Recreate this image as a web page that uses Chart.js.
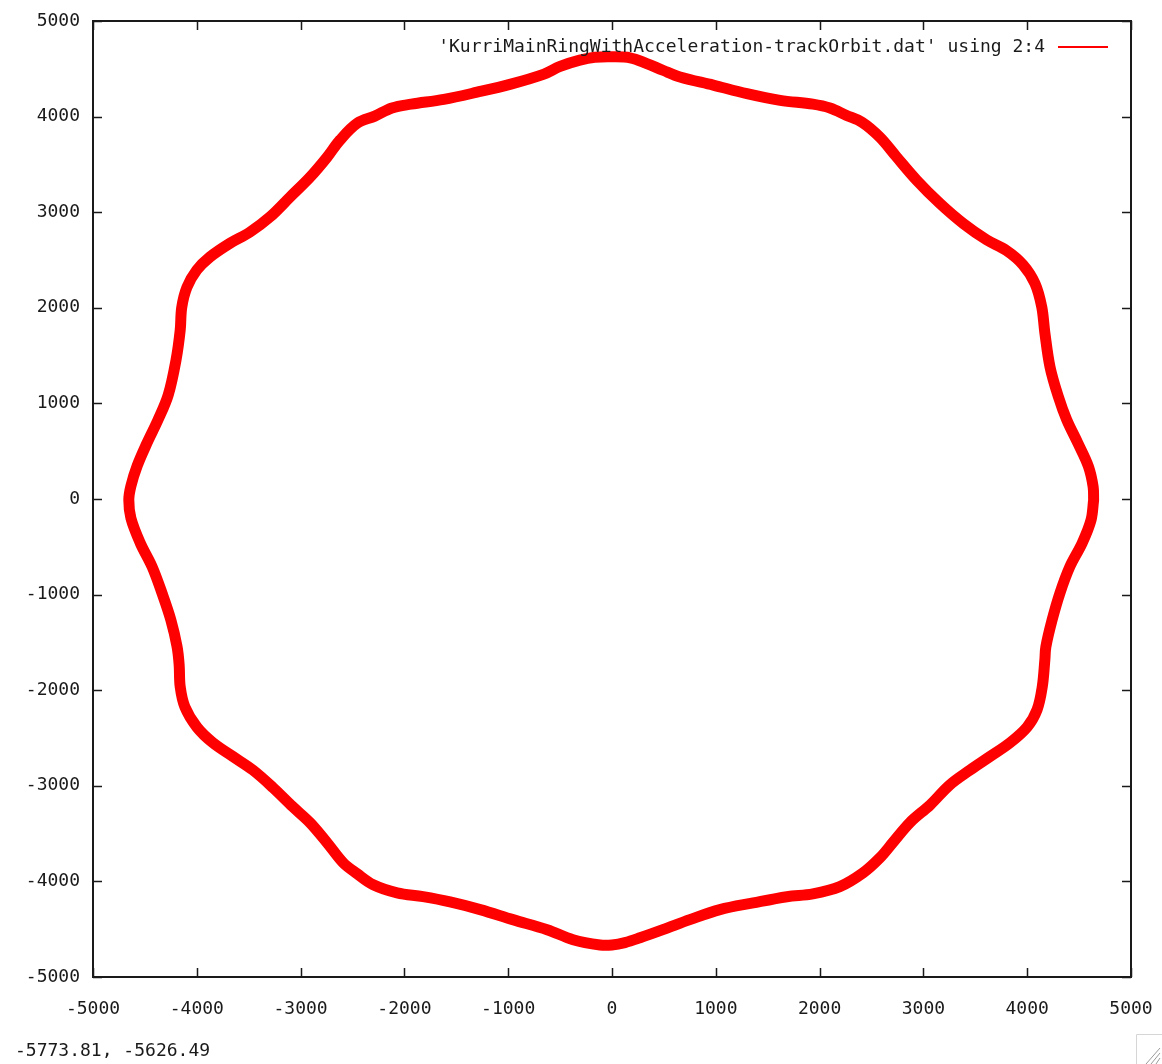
<!DOCTYPE html>
<html>
<head>
<meta charset="utf-8">
<title>KurriMainRingWithAcceleration-trackOrbit</title>
<script src="https://cdn.jsdelivr.net/npm/chart.js@4"></script>
<style>
  html, body { margin: 0; padding: 0; background: #ffffff; }
  #wrap { position: relative; width: 1162px; height: 1064px; }
</style>
</head>
<body>
<div id="wrap"><canvas id="orbit" width="1162" height="1064"></canvas></div>
<script>
// Closed orbit in the horizontal plane: column 2 (x) and column 4 (y) of the track file, in mm.
const orbitX = [
  4640, 4635, 4590, 4490, 4380, 4300, 4220, 4170, 4140, 4075,
  3960, 3800, 3610, 3385, 3160, 2935, 2740, 2580, 2410, 2255,
  2100, 1935, 1620, 1300, 975, 655, 490, 335, 175, 0,
  -165, -310, -500, -655, -975, -1300, -1620, -1935, -2120, -2285,
  -2455, -2620, -2745, -2910, -3100, -3295, -3490, -3680, -3875, -4000,
  -4095, -4145, -4160, -4200, -4275, -4375, -4480, -4575, -4635, -4655,
  -4635, -4545, -4430, -4335, -4250, -4190, -4170, -4160, -4115, -4000,
  -3845, -3650, -3460, -3265, -3075, -2910, -2745, -2590, -2455, -2300,
  -2070, -1820, -1560, -1270, -955, -625, -375, -115, 0, 125,
  270, 490, 750, 1040, 1360, 1685, 1935, 2195, 2420, 2580,
  2705, 2870, 3065, 3255, 3450, 3640, 3835, 4000, 4095, 4145,
  4170, 4180, 4240, 4315, 4410, 4530, 4615, 4640
];
const orbitY = [
  -10, 130, 340, 580, 830, 1070, 1380, 1740, 2010, 2255,
  2450, 2600, 2710, 2880, 3090, 3335, 3580, 3785, 3940, 4015,
  4090, 4130, 4170, 4240, 4330, 4415, 4485, 4555, 4615, 4625,
  4620, 4590, 4525, 4445, 4340, 4255, 4180, 4130, 4090, 4005,
  3930, 3755, 3575, 3365, 3160, 2950, 2790, 2675, 2530, 2395,
  2215, 2005, 1765, 1455, 1090, 825, 585, 345, 135, -10,
  -200, -460, -710, -985, -1265, -1545, -1735, -1965, -2175, -2385,
  -2550, -2695, -2835, -3020, -3220, -3385, -3595, -3805, -3920, -4035,
  -4120, -4160, -4215, -4295, -4400, -4505, -4610, -4665, -4665, -4640,
  -4590, -4505, -4400, -4295, -4225, -4160, -4130, -4055, -3910, -3755,
  -3595, -3385, -3200, -2990, -2835, -2695, -2550, -2385, -2205, -1965,
  -1685, -1545, -1265, -985, -710, -460, -220, -10
];

const tickValues = [-5000, -4000, -3000, -2000, -1000, 0, 1000, 2000, 3000, 4000, 5000];
const seriesLabel = "'KurriMainRingWithAcceleration-trackOrbit.dat' using 2:4";
const cursorReadout = "-5773.81, -5626.49";

const orbitPoints = orbitX.map((x, i) => ({ x: x, y: orbitY[i] }));

const FONT = '"DejaVu Sans Mono", "Liberation Mono", monospace';
const INK = '#1a1a1a';
const RED = '#ff0000';

// Frame, inward tick marks on all four sides, key, cursor readout and resize grip.
const frameAndKey = {
  id: 'frameAndKey',
  beforeDatasetsDraw(chart) {
    const ctx = chart.ctx;
    const a = chart.chartArea;
    const xs = chart.scales.x, ys = chart.scales.y;
    const tl = 9;
    ctx.save();
    ctx.strokeStyle = INK;
    ctx.lineWidth = 1.5;
    ctx.beginPath();
    tickValues.forEach(v => {
      const px = Math.round(xs.getPixelForValue(v)) + 0.5;
      ctx.moveTo(px, a.bottom); ctx.lineTo(px, a.bottom - tl);
      ctx.moveTo(px, a.top); ctx.lineTo(px, a.top + tl);
      const py = Math.round(ys.getPixelForValue(v)) + 0.5;
      ctx.moveTo(a.left, py); ctx.lineTo(a.left + tl, py);
      ctx.moveTo(a.right, py); ctx.lineTo(a.right - tl, py);
    });
    ctx.stroke();
    ctx.lineWidth = 2;
    ctx.strokeRect(a.left, a.top, a.right - a.left, a.bottom - a.top);
    ctx.restore();
  },
  afterDatasetsDraw(chart) {
    const ctx = chart.ctx;
    const a = chart.chartArea;
    ctx.save();
    // key
    ctx.font = '18px ' + FONT;
    ctx.fillStyle = INK;
    ctx.textBaseline = 'middle';
    ctx.textAlign = 'right';
    const keyY = a.top + 26;
    ctx.fillText(seriesLabel, a.right - 86, keyY);
    ctx.strokeStyle = RED;
    ctx.lineWidth = 2;
    ctx.beginPath();
    ctx.moveTo(a.right - 73, keyY);
    ctx.lineTo(a.right - 23, keyY);
    ctx.stroke();
    // cursor readout under the plot
    ctx.textAlign = 'left';
    ctx.fillStyle = INK;
    ctx.fillText(cursorReadout, 15, 1051);
    // window resize grip
    const gx = 1136, gy = 1034;
    ctx.strokeStyle = '#d6d6d6';
    ctx.lineWidth = 1;
    ctx.beginPath();
    ctx.moveTo(gx + 0.5, 1064); ctx.lineTo(gx + 0.5, gy + 0.5); ctx.lineTo(1162, gy + 0.5);
    ctx.stroke();
    ctx.strokeStyle = '#9a9a9a';
    ctx.beginPath();
    [[1160, 1048, 1146, 1064], [1160, 1053, 1151, 1064], [1160, 1058, 1156, 1064]].forEach(s => {
      ctx.moveTo(s[0], s[1]); ctx.lineTo(s[2], s[3]);
    });
    ctx.stroke();
    ctx.restore();
  }
};

const axisCommon = {
  type: 'linear',
  min: -5000,
  max: 5000,
  grid: { display: false, drawTicks: false },
  border: { display: false },
  afterBuildTicks(scale) {
    scale.ticks = tickValues.map(v => ({ value: v }));
  },
};

new Chart(document.getElementById('orbit'), {
  type: 'scatter',
  data: {
    datasets: [{
      label: seriesLabel,
      data: orbitPoints,
      showLine: true,
      borderColor: RED,
      backgroundColor: RED,
      borderWidth: 11,
      pointRadius: 0,
      pointHoverRadius: 0,
      tension: 0.35,
      borderJoinStyle: 'round',
      borderCapStyle: 'round',
      fill: false,
    }]
  },
  options: {
    responsive: false,
    animation: false,
    layout: { padding: { top: 21, right: 31, left: 0, bottom: 0 } },
    plugins: {
      legend: { display: false },
      tooltip: { enabled: false },
    },
    scales: {
      x: Object.assign({}, axisCommon, {
        position: 'bottom',
        ticks: {
          font: { family: FONT, size: 18 },
          color: INK,
          padding: 22,
          maxRotation: 0,
          autoSkip: false,
          callback: v => String(v),
        },
        afterFit(scale) {
          scale.height = 87;
          scale.paddingLeft = 0;
          scale.paddingRight = 0;
        },
      }),
      y: Object.assign({}, axisCommon, {
        position: 'left',
        ticks: {
          font: { family: FONT, size: 18 },
          color: INK,
          padding: 13,
          autoSkip: false,
          callback: v => String(v),
        },
        afterFit(scale) {
          scale.width = 93;
          scale.paddingTop = 0;
          scale.paddingBottom = 0;
        },
      }),
    },
  },
  plugins: [frameAndKey],
});
</script>
</body>
</html>
